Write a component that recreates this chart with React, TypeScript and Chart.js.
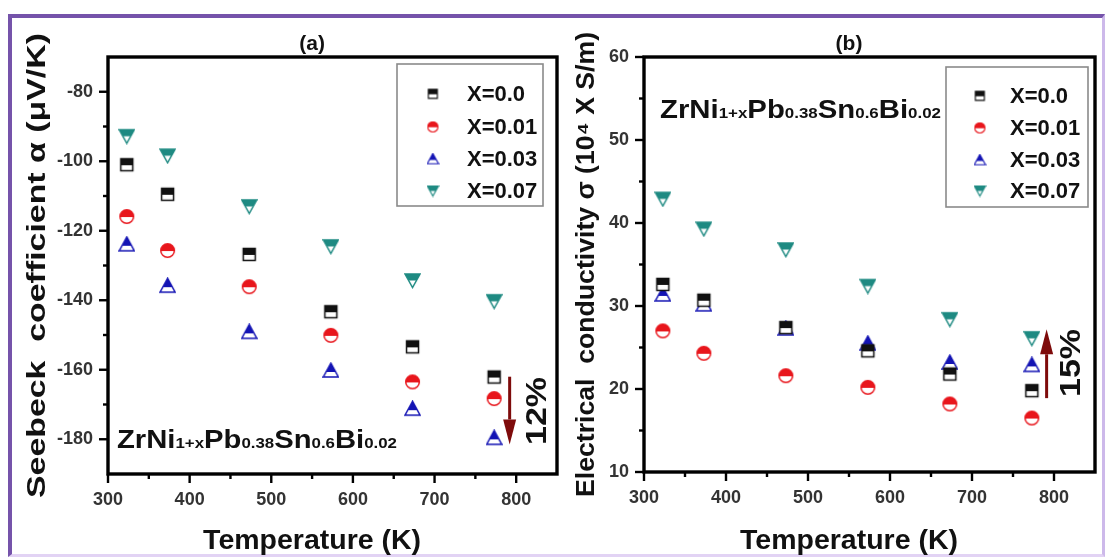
import React, { useEffect, useRef } from 'react';
import { Chart, registerables } from 'chart.js';

Chart.register(...registerables);

// ---------------- data ----------------
const temperatures = [323, 373, 473, 573, 673, 773];
const seriesLabels = ['X=0.0', 'X=0.01', 'X=0.03', 'X=0.07'];

const seebeckX000 = [-101.0, -109.5, -126.8, -143.3, -153.4, -162.1];
const seebeckX001 = [-115.9, -125.7, -136.1, -150.1, -163.5, -168.3];
const seebeckX003 = [-123.9, -135.8, -149.1, -160.2, -171.2, -179.6];
const seebeckX007 = [-92.8, -98.4, -113.0, -124.5, -134.3, -140.3];

const condX000 = [32.6, 30.7, 27.4, 24.6, 21.8, 19.8];
const condX001 = [27.0, 24.3, 21.6, 20.2, 18.2, 16.5];
const condX003 = [31.4, 30.2, 27.3, 25.5, 23.2, 22.9];
const condX007 = [42.9, 39.3, 36.8, 32.4, 28.4, 26.1];

const tempTicks = [300, 400, 500, 600, 700, 800];
const seebeckTicks = [-180, -160, -140, -120, -100, -80];
const condTicks = [10, 20, 30, 40, 50, 60];

const tempMin = 300;
const tempMax = 850;
const seebeckMin = -190;
const seebeckMax = -70;
const condMin = 10;
const condMax = 60;

const seebeckArrow = { x: 792, from: -162, to: -181.5 };
const condArrow = { x: 791, from: 18.9, to: 27.2 };

const formulaParts: [string, boolean][] = [
  ['ZrNi', false], ['1+x', true], ['Pb', false], ['0.38', true],
  ['Sn', false], ['0.6', true], ['Bi', false], ['0.02', true],
];

// ---------------- styling ----------------
const FONT = '"Liberation Sans", Arial, sans-serif';
const colors = ['#111111', '#e8161c', '#1414b4', '#1e8a82'];
const shapes = ['square', 'circle', 'up', 'down'];

function makeMarker(shape: string, color: string, k: number): HTMLCanvasElement {
  const size = Math.round(17 * k);
  const c = document.createElement('canvas');
  c.width = size;
  c.height = size;
  const g = c.getContext('2d')!;
  g.scale(k, k);
  const p = new Path2D();
  let split = 9;
  if (shape === 'square') {
    p.rect(2.5, 2.5, 12, 12);
  } else if (shape === 'circle') {
    p.arc(8.5, 8.5, 6.8, 0, Math.PI * 2);
  } else if (shape === 'up') {
    p.moveTo(8.5, 1.2); p.lineTo(16, 15); p.lineTo(1, 15); p.closePath();
    split = 10;
  } else {
    p.moveTo(1, 2); p.lineTo(16, 2); p.lineTo(8.5, 15.5); p.closePath();
    split = 8.6;
  }
  g.fillStyle = '#ffffff';
  g.fill(p);
  g.save();
  g.beginPath();
  g.rect(0, 0, 17, split);
  g.clip();
  g.fillStyle = color;
  g.fill(p);
  g.restore();
  g.lineWidth = 1.5;
  g.strokeStyle = color;
  g.stroke(p);
  return c;
}

function drawStretched(ctx: CanvasRenderingContext2D, text: string, x: number, y: number,
  font: string, target: number, rotate: boolean, baseline: CanvasTextBaseline) {
  ctx.save();
  ctx.font = font;
  const w = ctx.measureText(text).width;
  const sx = target > 0 ? target / w : 1;
  ctx.translate(x, y);
  if (rotate) ctx.rotate(-Math.PI / 2);
  ctx.scale(sx, 1);
  ctx.textAlign = 'center';
  ctx.textBaseline = baseline;
  ctx.fillText(text, 0, 0);
  ctx.restore();
}

const decorPlugin = {
  id: 'decor',
  afterDraw(chart: any, _args: any, o: any) {
    const ctx: CanvasRenderingContext2D = chart.ctx;
    const { left, right, top, bottom } = chart.chartArea;
    const xs = chart.scales.x;
    const ys = chart.scales.y;
    ctx.save();
    ctx.fillStyle = '#111';
    ctx.strokeStyle = '#000';

    // ticks (major + minor), outward
    ctx.lineWidth = 2.4;
    const line = (x1: number, y1: number, x2: number, y2: number) => {
      ctx.beginPath(); ctx.moveTo(x1, y1); ctx.lineTo(x2, y2); ctx.stroke();
    };
    const xv = xs.ticks.map((t: any) => t.value);
    const yv = ys.ticks.map((t: any) => t.value);
    xv.forEach((v: number) => {
      const px = xs.getPixelForValue(v);
      line(px, bottom, px, bottom + 9);
    });
    const xStep = xv[1] - xv[0];
    for (let v = xv[0] + xStep / 2; v < xs.max; v += xStep) {
      const px = xs.getPixelForValue(v);
      line(px, bottom, px, bottom + 5);
    }
    yv.forEach((v: number) => {
      const py = ys.getPixelForValue(v);
      line(left, py, left - 9, py);
    });
    const yStep = yv[1] - yv[0];
    for (let v = yv[0] - yStep / 2; v < ys.max; v += yStep) {
      if (v <= ys.min) continue;
      const py = ys.getPixelForValue(v);
      line(left, py, left - 5, py);
    }

    // frame box
    ctx.lineWidth = 3.4;
    ctx.strokeRect(left, top, right - left, bottom - top);

    // panel label
    ctx.fillStyle = '#111';
    drawStretched(ctx, o.panel, xs.getPixelForValue(550), 44, `bold 21px ${FONT}`, 0, false, 'middle');
    // axis titles
    drawStretched(ctx, 'Temperature (K)', xs.getPixelForValue(550), 549, `bold 28px ${FONT}`, 218, false, 'alphabetic');
    drawStretched(ctx, o.yTitle, o.yTitleX, (top + bottom) / 2, `bold 25px ${FONT}`, o.yTitleLen, true, 'middle');

    // compound formula
    {
      const mainF = `bold 26px ${FONT}`;
      const subF = `bold 15px ${FONT}`;
      let nat = 0;
      formulaParts.forEach(([t, s]) => { ctx.font = s ? subF : mainF; nat += ctx.measureText(t).width; });
      const sx = o.formula.w / nat;
      ctx.save();
      ctx.translate(o.formula.x, o.formula.y);
      ctx.scale(sx, 1);
      ctx.textAlign = 'left';
      ctx.textBaseline = 'alphabetic';
      let cx = 0;
      formulaParts.forEach(([t, s]) => {
        ctx.font = s ? subF : mainF;
        ctx.fillText(t, cx, 0);
        cx += ctx.measureText(t).width;
      });
      ctx.restore();
    }

    // arrow
    {
      const ax = xs.getPixelForValue(o.arrow.x);
      const y1 = ys.getPixelForValue(o.arrow.from);
      const y2 = ys.getPixelForValue(o.arrow.to);
      const dir = Math.sign(y2 - y1);
      const head = 25;
      ctx.strokeStyle = '#7e0b0b';
      ctx.fillStyle = '#7e0b0b';
      ctx.lineWidth = 3;
      line(ax, y1, ax, y2 - dir * head);
      ctx.beginPath();
      ctx.moveTo(ax, y2);
      ctx.lineTo(ax - 6.5, y2 - dir * head);
      ctx.lineTo(ax + 6.5, y2 - dir * head);
      ctx.closePath();
      ctx.fill();
    }
    ctx.fillStyle = '#111';
    drawStretched(ctx, o.pct.text, o.pct.x, o.pct.y, `bold 30px ${FONT}`, 68, true, 'middle');

    // legend
    {
      const L = o.legend;
      ctx.strokeStyle = '#8a8a8a';
      ctx.lineWidth = 1.6;
      ctx.strokeRect(L.x, L.y, L.w, L.h);
      chart.data.datasets.forEach((ds: any, i: number) => {
        const ry = L.rows[i];
        const m = ds.legendMarker as HTMLCanvasElement;
        ctx.drawImage(m, L.mx - m.width / 2, ry - m.height / 2);
        ctx.fillStyle = '#111';
        ctx.font = `bold 22px ${FONT}`;
        ctx.textAlign = 'left';
        ctx.textBaseline = 'middle';
        ctx.fillText(ds.label, L.tx, ry + 1);
      });
    }
    ctx.restore();
  },
};

function makeDatasets(series: number[][]) {
  return series.map((vals, i) => ({
    label: seriesLabels[i],
    data: temperatures.map((t, j) => ({ x: t, y: vals[j] })),
    showLine: false,
    pointStyle: makeMarker(shapes[i], colors[i], 1),
    legendMarker: makeMarker(shapes[i], colors[i], 0.75),
    pointRadius: 7,
    pointHoverRadius: 7,
  }));
}

const tickFont = { family: FONT, weight: 'bold' as const, size: 18 };

function makeConfig(series: number[][], yMin: number, yMax: number, yTicks: number[],
  pad: { left: number; right: number; top: number; bottom: number }, decor: any): any {
  return {
    type: 'scatter',
    data: { datasets: makeDatasets(series) },
    options: {
      animation: false,
      responsive: false,
      maintainAspectRatio: false,
      layout: { padding: pad },
      plugins: { legend: { display: false }, tooltip: { enabled: false }, decor },
      scales: {
        x: {
          type: 'linear', min: tempMin, max: tempMax,
          afterBuildTicks: (s: any) => { s.ticks = tempTicks.map((v) => ({ value: v })); },
          afterFit: (s: any) => { s.height = 40; },
          ticks: { font: tickFont, color: '#333', padding: 6, maxRotation: 0, autoSkip: false },
          grid: { display: false, drawTicks: true, tickLength: 9 },
          border: { display: false },
        },
        y: {
          type: 'linear', min: yMin, max: yMax,
          afterBuildTicks: (s: any) => { s.ticks = yTicks.map((v) => ({ value: v })); },
          afterFit: (s: any) => { s.width = 60; },
          ticks: { font: tickFont, color: '#333', padding: 6, autoSkip: false },
          grid: { display: false, drawTicks: true, tickLength: 9 },
          border: { display: false },
        },
      },
    },
    plugins: [decorPlugin],
  };
}

export default function App() {
  const refA = useRef<HTMLCanvasElement>(null);
  const refB = useRef<HTMLCanvasElement>(null);

  useEffect(() => {
    const chartA = new Chart(refA.current!, makeConfig(
      [seebeckX000, seebeckX001, seebeckX003, seebeckX007],
      seebeckMin, seebeckMax, seebeckTicks,
      { left: 48, right: 553, top: 57, bottom: 44 },
      {
        panel: '(a)',
        yTitle: 'Seebeck  coefficient \u03b1 (\u03bcV/K)', yTitleX: 38, yTitleLen: 465,
        formula: { x: 117, y: 448, w: 280 },
        arrow: seebeckArrow,
        pct: { text: '12%', x: 538, y: 411 },
        legend: { x: 397, y: 64, w: 146, h: 142, mx: 433, tx: 467, rows: [94, 127, 159, 191] },
      }));
    const chartB = new Chart(refB.current!, makeConfig(
      [condX000, condX001, condX003, condX007],
      condMin, condMax, condTicks,
      { left: 584, right: 15, top: 57, bottom: 46 },
      {
        panel: '(b)',
        yTitle: 'Electrical  conductivity \u03c3 (10\u2074 X S/m)', yTitleX: 587, yTitleLen: 465,
        formula: { x: 660, y: 118, w: 281 },
        arrow: condArrow,
        pct: { text: '15%', x: 1072, y: 363 },
        legend: { x: 946, y: 67, w: 142, h: 140, mx: 980, tx: 1010, rows: [96, 128, 160, 191] },
      }));
    return () => { chartA.destroy(); chartB.destroy(); };
  }, []);

  const cStyle: React.CSSProperties = { position: 'absolute', left: 0, top: 0, width: 1110, height: 558 };
  return (
    <div style={{ position: 'fixed', left: 0, top: 0, width: 1110, height: 558, background: '#ffffff' }}>
      <div style={{
        position: 'absolute', left: 8, top: 14, width: 1090, height: 536,
        borderTop: '4px solid #7553aa', borderLeft: '4px solid #7553aa',
        borderRight: '3px solid #cdb9ea', borderBottom: '3px solid #e2d3f4',
        background: '#ffffff',
      }} />
      <canvas ref={refA} width={1110} height={558} style={cStyle} />
      <canvas ref={refB} width={1110} height={558} style={cStyle} />
    </div>
  );
}
